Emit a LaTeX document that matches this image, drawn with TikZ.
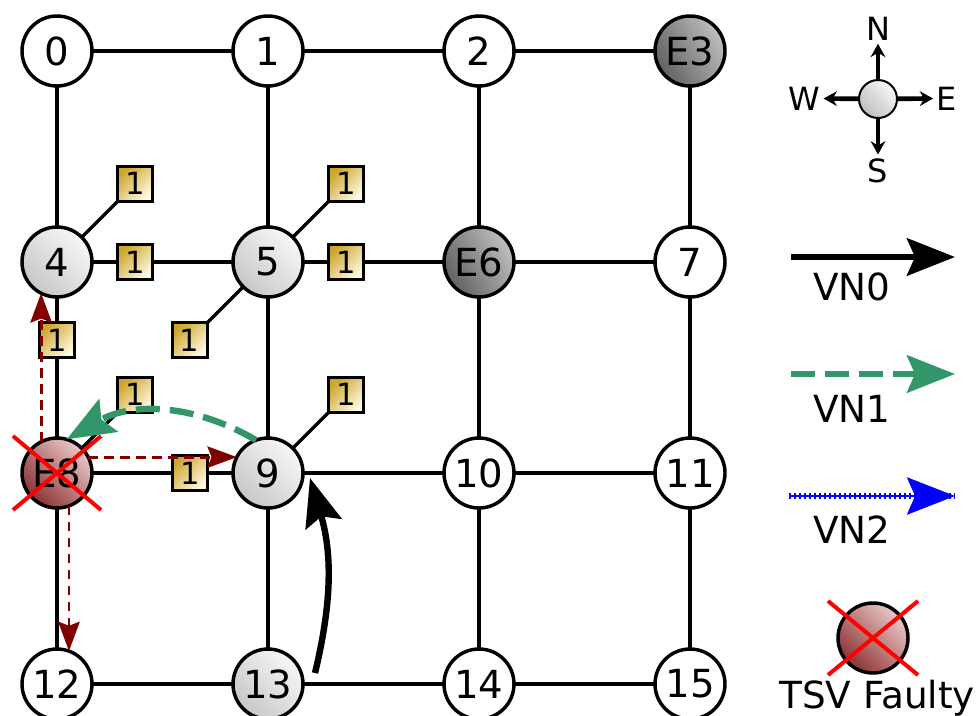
\documentclass[tikz,border=0pt]{standalone}
\usepackage{fontspec}
\setmainfont{DejaVu Sans}
\usetikzlibrary{positioning,arrows.meta}

\definecolor{vngreen}{RGB}{50,150,105}
\definecolor{tsvdark}{RGB}{140,50,50}
\definecolor{tsvlight}{RGB}{235,200,200}
\definecolor{bufdark}{RGB}{205,165,45}
\definecolor{buflight}{RGB}{255,250,225}
\definecolor{detourred}{RGB}{128,0,0}

\begin{document}
\begin{tikzpicture}[x=0.75pt,y=-0.75pt,line width=2.6pt,node distance=105.75pt,
  router/.style={circle,draw,fill=white,minimum size=52.5pt,inner sep=0pt,outer sep=0pt,
    font=\fontsize{29}{32}\selectfont},
  active/.style={router,top color=black!3,bottom color=black!22,shading angle=-45},
  edgerouter/.style={router,top color=black!25,bottom color=black!62,shading angle=-60},
  tsvrouter/.style={router,top color=tsvlight,bottom color=tsvdark,shading angle=-45},
  credit/.style={rectangle,draw,minimum size=26.25pt,inner sep=0pt,outer sep=0pt,
    top color=bufdark,bottom color=buflight,shading angle=45,
    font=\fontsize{23}{25}\selectfont},
  hub/.style={circle,draw,line width=1.5pt,minimum size=28.5pt,inner sep=0pt,outer sep=0pt,
    top color=black!3,bottom color=black!25,shading angle=-45},
  vnzero/.style={-{Stealth[length=36pt,width=28pt,inset=6pt]},line width=4.8pt},
  vnone/.style={vnzero,vngreen,dash pattern=on 18pt off 7.5pt},
  vntwo/.style={-{Stealth[length=36pt,width=28pt,inset=6pt]},blue,line width=2pt,
    postaction={draw,-,line width=5pt,dash pattern=on 1.5pt off 2.25pt}},
  detour/.style={-{Stealth[length=22pt,width=16pt,inset=3pt]},detourred,line width=2.2pt,
    dash pattern=on 7pt off 5pt},
  faultx/.style={red,line width=3pt},
  dirarrow/.style={-{Stealth[length=10pt,width=11pt]},line width=3.5pt},
  dirtext/.style={font=\fontsize{24}{26}\selectfont,inner sep=1.5pt,anchor=base},
  legtext/.style={font=\fontsize{28}{32}\selectfont,anchor=base}]
\useasboundingbox (0,0) rectangle (977,715);

% routers
\node[router] (n0) at (57,51) {0};
\node[router] (n1) [right=of n0] {1};
\node[router] (n2) [right=of n1] {2};
\node[edgerouter] (n3) [right=of n2] {E3};
\node[active] (n4) [below=of n0] {4};
\node[active] (n5) [right=of n4] {5};
\node[edgerouter] (n6) [right=of n5] {E6};
\node[router] (n7) [right=of n6] {7};
\node[tsvrouter] (n8) [below=of n4] {E8};
\node[active] (n9) [right=of n8] {9};
\node[router] (n10) [right=of n9] {10};
\node[router] (n11) [right=of n10] {11};
\node[router] (n12) [below=of n8] {12};
\node[active] (n13) [right=of n12] {13};
\node[router] (n14) [right=of n13] {14};
\node[router] (n15) [right=of n14] {15};

% credits
\node[credit] (c4ne) [above right=27pt and 27pt of n4] {1};
\node[credit] (c45) [right=19pt of n4] {1};
\node[credit] (c48) [below=19pt of n4] {1};
\node[credit] (c5ne) [above right=27pt and 27pt of n5] {1};
\node[credit] (c56) [right=19pt of n5] {1};
\node[credit] (c5sw) [below left=27pt and 27pt of n5] {1};
\node[credit] (c8ne) [above right=27pt and 27pt of n8] {1};
\node[credit] (c89) [left=19pt of n9] {1};
\node[credit] (c9ne) [above right=27pt and 27pt of n9] {1};

% links
\draw (n0) -- (n1);
\draw (n1) -- (n2);
\draw (n2) -- (n3);
\draw (n4) -- (c45) -- (n5);
\draw (n5) -- (c56) -- (n6);
\draw (n6) -- (n7);
\draw (n8) -- (c89) -- (n9);
\draw (n9) -- (n10);
\draw (n10) -- (n11);
\draw (n12) -- (n13);
\draw (n13) -- (n14);
\draw (n14) -- (n15);
\draw (n0) -- (n4);
\draw (n4) -- (c48) -- (n8);
\draw (n8) -- (n12);
\draw (n1) -- (n5);
\draw (n5) -- (n9);
\draw (n9) -- (n13);
\draw (n2) -- (n6);
\draw (n6) -- (n10);
\draw (n10) -- (n14);
\draw (n3) -- (n7);
\draw (n7) -- (n11);
\draw (n11) -- (n15);
\draw (n4) -- (c4ne);
\draw (n5) -- (c5ne);
\draw (n5) -- (c5sw);
\draw (n8) -- (c8ne);
\draw (n9) -- (c9ne);

% faulty TSV
\draw[faultx] ([shift={(-44,-37)}]n8.center) -- ([shift={(44,37)}]n8.center);
\draw[faultx] ([shift={(-44,37)}]n8.center) -- ([shift={(44,-37)}]n8.center);

% flows
\coordinate (flowsrc) at (315,673);
\coordinate (flowdst) at (310,478);
\draw[vnzero] (flowsrc) to[bend right=15] (flowdst);
\draw[vnone] (n9.110) to[bend right=30] (n8.74);
\draw[detour] (n8.117) -- (n4.243);
\draw[detour] (n8.27) -- (n9.153);
\draw[detour] (n8.-70) -- (n12.70);

% legend
\node[hub] (hub) at (878,99) {};
\node[dirtext] (dN) at (878,40) {N};
\node[dirtext] (dS) at (878,182) {S};
\node[dirtext] (dW) at (804,110) {W};
\node[dirtext] (dE) at (947,110) {E};
\draw[dirarrow] (hub) -- (dN);
\draw[dirarrow] (hub) -- (dS);
\draw[dirarrow] (hub) -- (dW);
\draw[dirarrow] (hub) -- (dE);

\coordinate (k0a) at (791,257);
\coordinate (k0b) at (955,257);
\draw[vnzero] (k0a) -- (k0b);
\node[legtext] (l0) at (852,300) {VN0};
\coordinate (k1a) at (791,374);
\coordinate (k1b) at (955,374);
\draw[vnone] (k1a) -- (k1b);
\node[legtext] (l1) at (852,422) {VN1};
\coordinate (k2a) at (789,496);
\coordinate (k2b) at (955,496);
\draw[vntwo] (k2a) -- (k2b);
\node[legtext] (l2) at (852,543) {VN2};

\node[tsvrouter] (tsv) at (873,638) {};
\draw[faultx] ([shift={(-45,-37)}]tsv.center) -- ([shift={(45,37)}]tsv.center);
\draw[faultx] ([shift={(-45,37)}]tsv.center) -- ([shift={(45,-37)}]tsv.center);
\node[legtext] (ltsv) at (877,708) {TSV Faulty};
\end{tikzpicture}
\end{document}
